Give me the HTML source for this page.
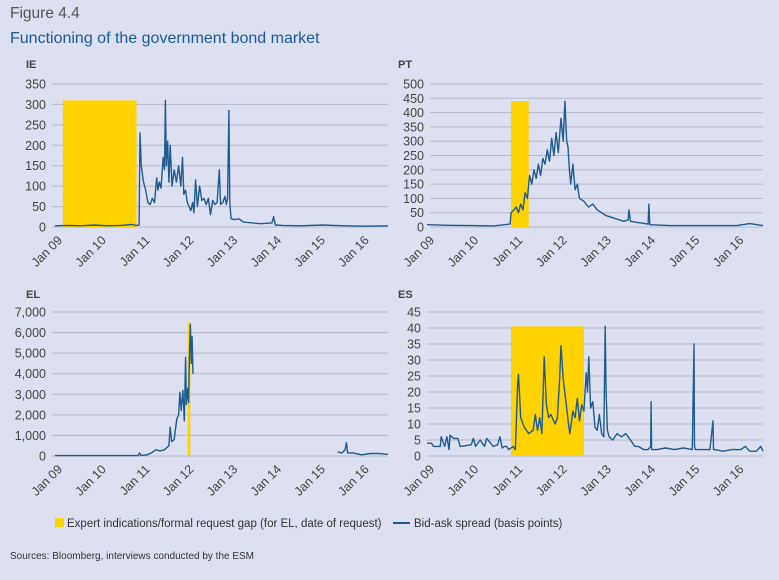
<!DOCTYPE html>
<html><head><meta charset="utf-8"><style>
html,body{margin:0;padding:0;background:#dde0f1;}
svg{display:block;font-family:"Liberation Sans",sans-serif;}
</style></head><body>
<svg id="chart" width="779" height="580" viewBox="0 0 779 580">
<rect x="0" y="0" width="779" height="580" fill="#dde0f1"/>
<text x="10" y="18" font-size="15.5" fill="#555">Figure 4.4</text>
<text x="10" y="43" font-size="16" fill="#1a5a9c">Functioning of the government bond market</text>
<g id="panels"></g>
<rect x="55" y="518" width="9" height="9" fill="#ffd200"/>
<text x="67" y="527" font-size="11.5" fill="#333">Expert indications/formal request gap (for EL, date of request)</text>
<line x1="393" y1="523" x2="410" y2="523" stroke="#1f5b8e" stroke-width="2"/>
<text x="414" y="527" font-size="11.5" fill="#333">Bid-ask spread (basis points)</text>
<text x="10" y="559" font-size="10" fill="#333">Sources: Bloomberg, interviews conducted by the ESM</text>
</svg>
<script>
const xLabels=["Jan 09","Jan 10","Jan 11","Jan 12","Jan 13","Jan 14","Jan 15","Jan 16"];
const ieTicks=[0,50,100,150,200,250,300,350];
const ptTicks=[0,50,100,150,200,250,300,350,400,450,500];
const elTicks=[0,1000,2000,3000,4000,5000,6000,7000];
const esTicks=[0,5,10,15,20,25,30,35,40,45];
const ieGap=[0.18,1.86,310];
const ptGap=[1.9,2.3,440];
const elGap=[3.03,3.09,6500];
const esGap=[1.9,3.55,40.5];
const ieSeries=[[0,3],[0.3,4],[0.6,3],[0.9,5],[1.2,3],[1.5,4],[1.75,6],[1.85,4],[1.92,5],[1.94,230],[1.97,150],[2.02,110],[2.07,90],[2.12,60],[2.17,55],[2.22,70],[2.27,60],[2.32,120],[2.35,90],[2.38,110],[2.42,95],[2.47,170],[2.5,140],[2.52,310],[2.54,150],[2.57,210],[2.6,110],[2.63,200],[2.67,100],[2.72,140],[2.77,110],[2.82,150],[2.87,100],[2.91,170],[2.94,80],[2.98,90],[3.02,60],[3.06,50],[3.1,40],[3.14,60],[3.17,35],[3.21,115],[3.25,50],[3.3,100],[3.35,65],[3.4,70],[3.45,55],[3.5,70],[3.55,30],[3.6,65],[3.65,55],[3.7,60],[3.75,140],[3.78,55],[3.83,60],[3.88,75],[3.91,55],[3.94,70],[3.97,285],[3.99,60],[4.02,20],[4.1,18],[4.2,20],[4.3,12],[4.5,10],[4.7,8],[4.95,10],[4.99,25],[5.03,5],[5.2,4],[5.6,3],[6.1,5],[6.6,3],[7.1,2],[7.6,3]];
const ptSeries=[[0,8],[0.5,6],[1.0,5],[1.5,4],[1.88,10],[1.9,50],[1.97,60],[2.02,70],[2.07,50],[2.12,80],[2.17,60],[2.22,120],[2.27,100],[2.32,180],[2.37,150],[2.42,200],[2.47,170],[2.52,220],[2.57,180],[2.62,240],[2.67,220],[2.72,270],[2.77,230],[2.82,310],[2.87,250],[2.92,330],[2.97,260],[3.03,380],[3.08,300],[3.12,440],[3.16,300],[3.19,280],[3.22,200],[3.25,150],[3.3,220],[3.35,130],[3.4,150],[3.45,100],[3.55,90],[3.65,70],[3.75,80],[3.85,60],[3.95,50],[4.05,40],[4.25,30],[4.45,20],[4.55,25],[4.57,60],[4.6,20],[4.8,15],[5.0,10],[5.02,80],[5.04,8],[5.5,5],[6.0,5],[7.0,5],[7.3,12],[7.6,5]];
const elSeries=[[0,20],[1.0,20],[1.9,20],[1.93,150],[1.96,30],[2.1,60],[2.2,150],[2.3,300],[2.4,250],[2.5,300],[2.6,500],[2.63,1400],[2.66,700],[2.72,800],[2.78,1800],[2.82,2000],[2.85,3100],[2.88,2200],[2.92,3200],[2.95,1700],[2.98,4800],[3.0,2500],[3.03,3300],[3.05,2600],[3.07,5000],[3.09,6400],[3.11,4500],[3.13,5800],[3.15,4000],null,[6.45,200],[6.55,150],[6.62,300],[6.65,650],[6.68,150],[6.8,150],[7.0,60],[7.2,120],[7.4,120],[7.6,80]];
const esSeries=[[0,4],[0.1,4],[0.15,3],[0.3,3],[0.32,6],[0.4,3],[0.45,6],[0.5,2],[0.52,6.5],[0.6,5.5],[0.7,5.5],[0.75,3],[1.0,3.5],[1.05,5.5],[1.1,3],[1.2,5],[1.3,3],[1.35,5.5],[1.5,3],[1.6,3.5],[1.65,6],[1.7,2.5],[1.75,3],[1.8,3],[1.85,2],[1.95,3],[2.0,2],[2.05,22],[2.07,25.5],[2.09,20],[2.12,12],[2.2,9],[2.3,7],[2.4,8],[2.45,13],[2.5,8],[2.55,12],[2.6,7],[2.65,31],[2.7,16],[2.75,12],[2.8,13],[2.9,10],[2.95,12],[3.0,24],[3.03,34.5],[3.08,24],[3.15,16],[3.2,10],[3.23,7],[3.3,14],[3.35,12],[3.4,18],[3.45,11],[3.5,16],[3.55,14],[3.6,26],[3.63,20],[3.66,31],[3.7,15],[3.75,17],[3.8,9],[3.85,8],[3.9,13],[3.95,7],[4.0,6],[4.03,40.5],[4.05,20],[4.08,8],[4.12,6],[4.2,5],[4.3,7],[4.4,6],[4.5,7],[4.6,5],[4.7,3],[4.78,3],[4.9,2],[5.0,2],[5.06,3],[5.07,17],[5.08,2],[5.2,2],[5.4,2.5],[5.6,2],[5.8,2.5],[6.0,2],[6.04,35],[6.05,3],[6.07,2],[6.2,2],[6.4,2],[6.47,11],[6.48,2],[6.5,2],[6.7,1.5],[6.9,2],[7.1,2],[7.2,3],[7.3,1.5],[7.45,1.5],[7.55,3],[7.6,1.5]];

const NS="http://www.w3.org/2000/svg";
const root=document.getElementById('panels');
function mk(tag,attrs,parent){const e=document.createElementNS(NS,tag);for(const k in attrs)e.setAttribute(k,attrs[k]);parent.appendChild(e);return e;}
function fmt(v){return v.toLocaleString('en-US');}
function panel(cfg){
  const g=mk('g',{},root);
  
  
  const xs=t=>cfg.x0+(t/7.6)*(cfg.x1-cfg.x0);
  const ys=v=>cfg.y0-(v/cfg.max)*(cfg.y0-cfg.yTop);
  const title=mk('text',{x:cfg.tx,y:cfg.ty,'font-size':11,'font-weight':'bold',fill:'#444'},g);
  title.textContent=cfg.id;
  
  
  cfg.ticks.forEach(v=>{
    const y=ys(v);
    const l=mk('line',{x1:cfg.gx0,x2:cfg.x1,y1:y,y2:y,stroke:'#b5b9c9','stroke-width':1},g);
    
    
    const t=mk('text',{x:cfg.gx0-6,y:y+4.5,'font-size':12.5,fill:'#444','text-anchor':'end'},g);
    t.textContent=fmt(v);
    
    
  });
  const gx0=xs(cfg.gap[0]),gx1=xs(cfg.gap[1]);
  const r=mk('rect',{x:gx0,y:ys(cfg.gap[2]),width:Math.max(gx1-gx0,2.5),height:cfg.y0-ys(cfg.gap[2]),fill:'#ffd200'},g);
  
  
  let d='',pen=false;
  cfg.series.forEach(p=>{
    if(p===null){pen=false;return;}
    d+=(pen?'L':'M')+xs(p[0]).toFixed(1)+','+ys(p[1]).toFixed(1);pen=true;
  });
  const path=mk('path',{d:d,fill:'none',stroke:'#1f5b8e','stroke-width':1.4,'stroke-linejoin':'round'},g);
  
  
  xLabels.forEach((lab,i)=>{
    const x=xs(i)+8,y=cfg.y0+14;
    const t=mk('text',{x:x,y:y,'font-size':12.5,fill:'#444','text-anchor':'end',transform:'rotate(-45 '+x+' '+y+')'},g);
    t.textContent=lab;
    
    
  });
}
panel({id:'IE',x0:55,x1:388,gx0:52,y0:227,yTop:84,max:350,ticks:ieTicks,gap:ieGap,series:ieSeries,tx:26,ty:68});
panel({id:'PT',x0:427,x1:763,gx0:430,y0:227,yTop:84,max:500,ticks:ptTicks,gap:ptGap,series:ptSeries,tx:398,ty:68});
panel({id:'EL',x0:55,x1:388,gx0:52,y0:456,yTop:312,max:7000,ticks:elTicks,gap:elGap,series:elSeries,tx:26,ty:298});
panel({id:'ES',x0:427,x1:763,gx0:427,y0:456,yTop:312,max:45,ticks:esTicks,gap:esGap,series:esSeries,tx:398,ty:298});
</script>
</body></html>
